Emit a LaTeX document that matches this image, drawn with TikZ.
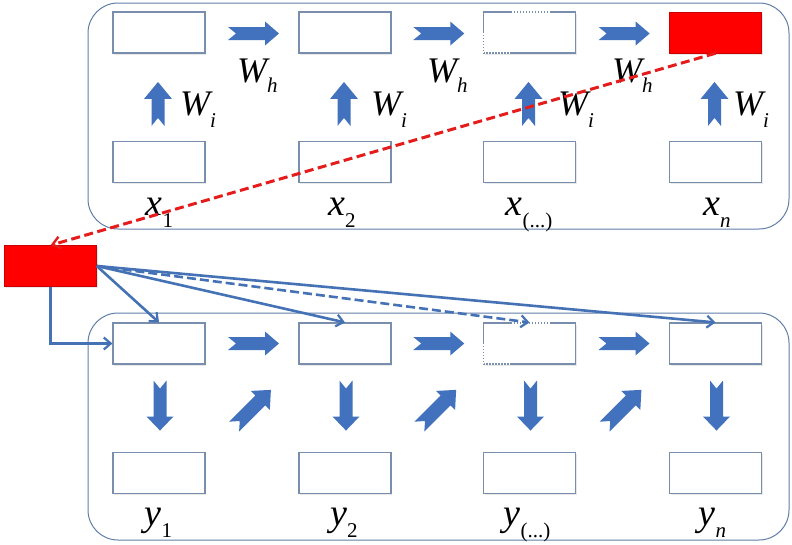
\documentclass[tikz,border=0pt]{standalone}
\usepackage{fontspec}
\setmainfont{Liberation Serif}
\usetikzlibrary{arrows.meta,shadows,calc}
\definecolor{blockblue}{RGB}{66,114,190}
\definecolor{boxline}{RGB}{120,142,172}
\definecolor{panelline}{RGB}{95,125,168}
\definecolor{connblue}{RGB}{68,114,180}
\definecolor{dashred}{RGB}{228,28,28}
\definecolor{fillred}{RGB}{255,0,0}
\newcommand\lbl[4]{\fontsize{#3}{#3}\selectfont\itshape #1\raisebox{#4}{\fontsize{21}{21}\selectfont #2}}
\tikzset{
  cell/.style={draw=boxline, line width=1.1pt, fill=white, minimum width=92pt, minimum height=41pt, inner sep=0pt,
    drop shadow={shadow xshift=1pt, shadow yshift=-1.5pt, opacity=0.18}},
  redcell/.style={fill=fillred, draw=fillred!80!black, line width=0.5pt, minimum width=92pt, minimum height=41pt, inner sep=0pt,
    drop shadow={shadow xshift=1pt, shadow yshift=-1.5pt, opacity=0.18}},
  panel/.style={draw=panelline, line width=1pt, rounded corners=30pt},
  lab/.style={inner sep=0pt, anchor=base west},
  clab/.style={inner sep=0pt, anchor=base},
  conn/.style={draw=connblue, line width=2.6pt, -{Straight Barb[length=7pt,width=12pt,line width=2.2pt]}},
  enc/.style={draw=dashred, line width=3pt, dash pattern=on 9pt off 4.5pt, -{Straight Barb[length=8pt,width=12pt,line width=2.4pt]}},
  pics/barrow/.style n args={4}{code={
    \fill[blockblue] ({-#1/2},{#2}) -- ({#1/2-#4},{#2}) -- ({#1/2-#4},{#3}) -- ({#1/2},0) -- ({#1/2-#4},{-#3}) -- ({#1/2-#4},{-#2}) -- ({-#1/2},{-#2}) -- ({-#1/2+8},0) -- cycle;
  }},
}
\begin{document}
\begin{tikzpicture}[x=1pt,y=-1pt]
\useasboundingbox (0,0) rectangle (792,544);
% panels
\draw[panel] (88,3) rectangle (789,229);
\draw[panel] (88,313) rectangle (789,540);
% encoder cells
\node[cell] (h1) at (159,32.5) {};
\node[cell] (h2) at (345,32.5) {};
\node[cell] (h3) at (529.5,32.5) {};
\node[redcell] (h4) at (715.5,32.5) {};
\node[cell] (x1) at (159,162) {};
\node[cell] (x2) at (345,162) {};
\node[cell] (x3) at (529.5,162) {};
\node[cell] (x4) at (715.5,162) {};
% decoder cells
\node[cell] (s1) at (159,343.5) {};
\node[cell] (s2) at (345,343.5) {};
\node[cell] (s3) at (529.5,343.5) {};
\node[cell] (s4) at (715.5,343.5) {};
\node[cell] (y1) at (159,473) {};
\node[cell] (y2) at (345,473) {};
\node[cell] (y3) at (529.5,473) {};
\node[cell] (y4) at (715.5,473) {};
% context vector
\node[redcell] (c) at (50.5,266) {};
% dotted artefacts on the middle cells
\foreach \t/\yy in {h3/12, s3/323}{
  \draw[white, line width=1.2pt, dash pattern=on 1.5pt off 1.5pt] (512,\yy) -- (550,\yy);
  \draw[white, line width=1.2pt, dash pattern=on 1.5pt off 1.5pt] (483.5,\yy+21) -- (483.5,\yy+41) -- (509,\yy+41);
}
% block arrows, encoder
\foreach \a/\b in {h1/h2, h2/h3, h3/h4}{
  \pic at ($(\a.east)!0.5!(\b.west)+(1.5,1)$) {barrow={51}{6.5}{12}{14}};
}
\foreach \n in {1,2,3,4}{
  \pic[rotate=90] at ($(x\n.north)+(-1,-37)$) {barrow={44}{6.5}{14}{17}};
}
% block arrows, decoder
\foreach \a/\b in {s1/s2, s2/s3, s3/s4}{
  \pic at ($(\a.east)!0.5!(\b.west)+(1.5,0)$) {barrow={51}{6.5}{12}{14}};
}
\foreach \n in {1,2,3,4}{
  \pic[rotate=-90] at ($(s\n.south)+(1,41)$) {barrow={50}{6.5}{13.5}{14}};
}
\foreach \a/\b in {y1/s2, y2/s3, y3/s4}{
  \pic[rotate=45] at ($(\a.east)!0.5!(\b.west)+(0.5,0)$) {barrow={52}{7}{13.5}{15}};
}
% labels
\node[lab] (wh1) at (237,82) {\lbl{W}{h}{36}{-0.3em}};
\node[lab] (wh2) at (427,82) {\lbl{W}{h}{36}{-0.3em}};
\node[lab] (wh3) at (612,82) {\lbl{W}{h}{36}{-0.3em}};
\node[lab] (wi1) at (180,115) {\lbl{W}{i}{36}{-0.36em}};
\node[lab] (wi2) at (371,115) {\lbl{W}{i}{36}{-0.36em}};
\node[lab] (wi3) at (558,115) {\lbl{W}{i}{36}{-0.36em}};
\node[lab] (wi4) at (733,115) {\lbl{W}{i}{36}{-0.36em}};
\node[clab] (lx1) at (159.5,215) {\lbl{x}{\upshape 1}{38}{-0.32em}};
\node[clab] (lx2) at (342,215) {\lbl{x}{\upshape 2}{38}{-0.32em}};
\node[clab] (lx3) at (529,215) {\lbl{x}{\upshape(...)}{38}{-0.32em}};
\node[clab] (lx4) at (717,215) {\lbl{x}{n}{38}{-0.32em}};
\node[clab] (ly1) at (158.5,525) {\lbl{y}{\upshape 1}{38}{-0.32em}};
\node[clab] (ly2) at (344,525) {\lbl{y}{\upshape 2}{38}{-0.32em}};
\node[clab] (ly3) at (527,525) {\lbl{y}{\upshape(...)}{38}{-0.32em}};
\node[clab] (ly4) at (712.5,525) {\lbl{y}{n}{38}{-0.32em}};
% connectors
\draw[enc] (h4.south) -- (c.north);
\draw[conn] (c.south) |- (s1.west);
\draw[conn] (c.east) -- (s1.north);
\draw[conn] (c.east) -- (s2.north);
\draw[conn, dash pattern=on 9pt off 4pt] (c.east) -- (s3.north);
\draw[conn] (c.east) -- (s4.north);
\end{tikzpicture}
\end{document}
